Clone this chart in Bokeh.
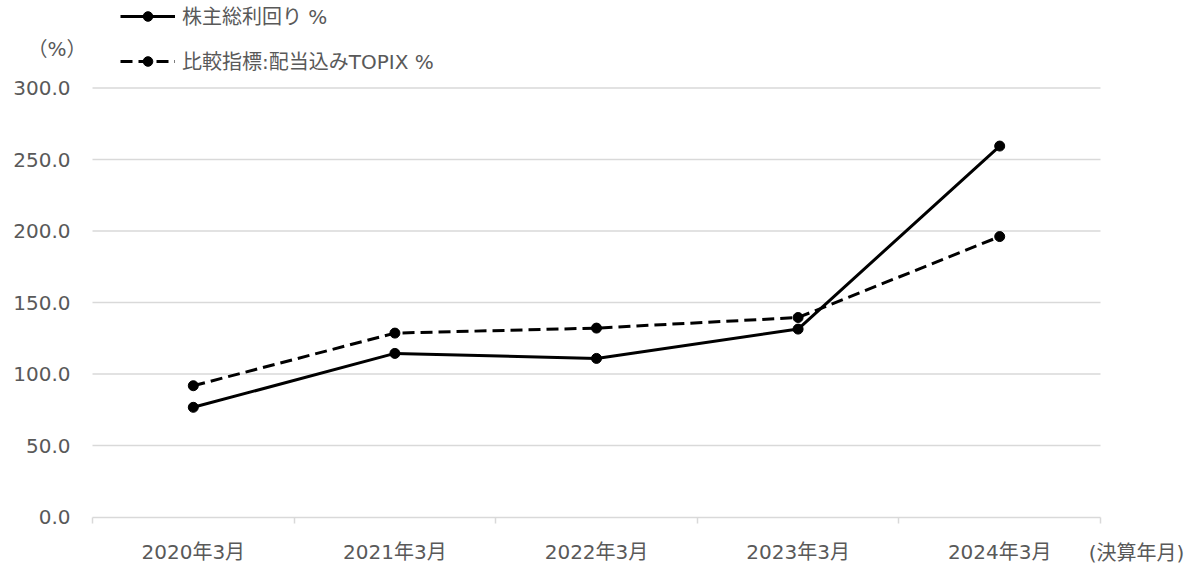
from bokeh.plotting import figure
from bokeh.models import Range1d, FixedTicker, Legend, LegendItem, Label, CustomJSTickFormatter
from bokeh.embed import file_html
from bokeh.resources import INLINE

categories = ["2020年3月", "2021年3月", "2022年3月", "2023年3月", "2024年3月"]
tsr = [76.7, 114.4, 110.9, 131.4, 259.4]
topix = [91.8, 128.6, 132.1, 139.5, 196.1]
series_names = ["株主総利回り %", "比較指標:配当込みTOPIX %"]
y_ticks = [0, 50, 100, 150, 200, 250, 300]
y_unit = "（%）"
x_unit = "(決算年月)"

FONT = "DejaVu Sans, Noto Sans CJK JP"
GREY = "#595959"
GRID = "#d9d9d9"

n = len(categories)
xs = [i + 0.5 for i in range(n)]

W, H = 1198, 569
LEFT, CAT_W = 92, 201.6      # frame-left pixel of category 0, pixels per category
ZERO_Y, PX_PER_UNIT = 516.5, 1.43

p = figure(width=W, height=H, output_backend="svg", toolbar_location=None,
           x_range=Range1d(-LEFT / CAT_W, (W - LEFT) / CAT_W),
           y_range=Range1d(-(H - ZERO_Y) / PX_PER_UNIT, ZERO_Y / PX_PER_UNIT),
           min_border=0)
p.outline_line_color = None
p.background_fill_color = "white"
p.xgrid.visible = False
p.ygrid.visible = False

# horizontal grid lines (only across the category area)
grid_vals = y_ticks[1:]
p.segment(x0=[0] * len(grid_vals), y0=grid_vals, x1=[n] * len(grid_vals), y1=grid_vals,
          line_color=GRID, line_width=1.5)

# x axis
p.xaxis.fixed_location = 0
p.xaxis.bounds = (0, n)
p.xaxis.ticker = FixedTicker(ticks=xs, minor_ticks=list(range(n + 1)))
p.xaxis.major_label_overrides = {x: c for x, c in zip(xs, categories)}
p.xaxis.major_tick_line_color = None
p.xaxis.major_tick_out = 0
p.xaxis.major_tick_in = 0
p.xaxis.minor_tick_line_color = GRID
p.xaxis.minor_tick_out = 6
p.xaxis.minor_tick_in = 0
p.xaxis.minor_tick_line_width = 1.5
p.xaxis.axis_line_color = GRID
p.xaxis.axis_line_width = 1.5
p.xaxis.major_label_standoff = 17
p.xaxis.major_label_text_font = FONT
p.xaxis.major_label_text_font_size = "20px"
p.xaxis.major_label_text_color = GREY

# y axis
p.yaxis.fixed_location = 0
p.yaxis.bounds = (0, 300)
p.yaxis.ticker = FixedTicker(ticks=y_ticks)
p.yaxis.formatter = CustomJSTickFormatter(code="return tick.toFixed(1);")
p.yaxis.axis_line_color = None
p.yaxis.major_tick_line_color = None
p.yaxis.major_tick_out = 0
p.yaxis.major_tick_in = 0
p.yaxis.minor_tick_line_color = None
p.yaxis.minor_tick_out = 0
p.yaxis.major_label_standoff = 22
p.yaxis.major_label_text_font = FONT
p.yaxis.major_label_text_font_size = "20px"
p.yaxis.major_label_text_color = GREY

l1 = p.line(xs, tsr, line_color="black", line_width=3)
s1 = p.scatter(xs, tsr, size=10, color="black")
l2 = p.line(xs, topix, line_color="black", line_width=3, line_dash="12 6")
s2 = p.scatter(xs, topix, size=10, color="black")

legend = Legend(items=[LegendItem(label=series_names[0], renderers=[l1, s1]),
                       LegendItem(label=series_names[1], renderers=[l2, s2])],
                location=(120, 494), orientation="vertical",
                padding=0, margin=0, spacing=16, glyph_width=55, glyph_height=24,
                label_height=24, label_standoff=7, label_text_font=FONT,
                label_text_font_size="20px", label_text_color=GREY,
                background_fill_alpha=0, border_line_color=None)
p.add_layout(legend)

p.add_layout(Label(x=(56.5 - LEFT) / CAT_W, y=(ZERO_Y - 48) / PX_PER_UNIT, text=y_unit,
                   text_align="center", text_baseline="middle",
                   text_font=FONT, text_font_size="20px", text_color=GREY))
p.add_layout(Label(x=(1136 - LEFT) / CAT_W, y=(ZERO_Y - 552) / PX_PER_UNIT, text=x_unit,
                   text_align="center", text_baseline="middle",
                   text_font=FONT, text_font_size="20px", text_color=GREY))

open("out.html", "w").write(file_html(p, INLINE))
